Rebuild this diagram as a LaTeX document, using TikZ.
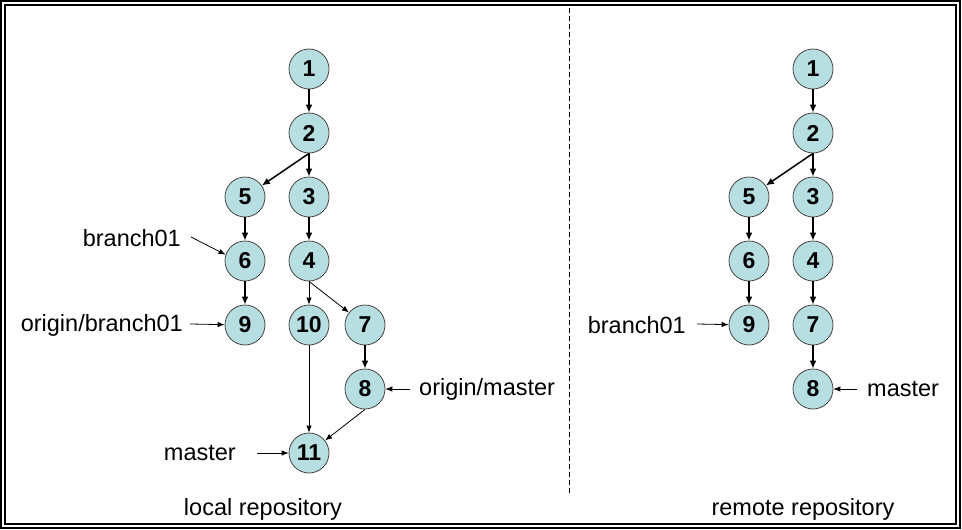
\documentclass[tikz,border=0pt]{standalone}
\usepackage{fontspec}
\setmainfont{Liberation Sans}
\usetikzlibrary{arrows.meta}
\definecolor{commitfill}{RGB}{183,222,225}
\definecolor{commitline}{RGB}{70,70,70}
\tikzset{
  commit/.style={circle, draw=commitline, line width=0.8pt, fill=commitfill,
    minimum size=40pt, inner sep=0pt, font=\fontsize{23}{23}\selectfont\bfseries},
  thickedge/.style={line width=1.5pt, -{Latex[length=8pt,width=7pt]}},
  thinedge/.style={line width=0.8pt, -{Latex[length=7pt,width=5.5pt]}},
  reflabel/.style={font=\fontsize{23.5}{24}\selectfont, inner sep=0pt},
  border/.style={line width=1.7pt}
}
\begin{document}
\begin{tikzpicture}[x=1pt,y=-1pt]
\useasboundingbox (0,0) rectangle (962,530);
\draw[border] (1,1) rectangle (960,528);
\draw[border] (5,5) rectangle (956,524);
\coordinate (dtop) at (569,8);
\coordinate (dbot) at (569,493);
\draw[line width=1pt, dash pattern=on 5pt off 3pt] (dtop) -- (dbot);

% local repository
\node[commit] (l1) at (309,69) {1};
\node[commit] (l2) at (309,133) {2};
\node[commit] (l5) at (245,197) {5};
\node[commit] (l3) at (309,197) {3};
\node[commit] (l6) at (245,261) {6};
\node[commit] (l4) at (309,261) {4};
\node[commit] (l9) at (245,325) {9};
\node[commit] (l10) at (309,325) {10};
\node[commit] (l7) at (365,325) {7};
\node[commit] (l8) at (365,389) {8};
\node[commit] (l11) at (309,453) {11};

\draw[thickedge] (l1) -- (l2);
\draw[thickedge] (l2.south) -- (l5);
\draw[thickedge] (l2) -- (l3);
\draw[thickedge] (l5) -- (l6);
\draw[thickedge] (l3) -- (l4);
\draw[thickedge] (l6) -- (l9);
\draw[thinedge] (l4) -- (l10);
\draw[thinedge] (l4.south) -- (l7);
\draw[thickedge] (l7) -- (l8);
\draw[thinedge] (l10) -- (l11);
\draw[thinedge] (l8.south) -- (l11);

\node[reflabel, anchor=east] (lb01) at (181,238) {branch01};
\node[reflabel, anchor=east] (lob01) at (183,325) {origin/branch01};
\node[reflabel, anchor=west] (lom) at (419,389) {origin/master};
\node[reflabel, anchor=east] (lm) at (236,453) {master};
\coordinate (lb01s) at (191,237);
\coordinate (lob01s) at (190,324);
\coordinate (loms) at (410,389);
\coordinate (lms) at (257,453);
\draw[thinedge] (lb01s) -- (l6.162);
\draw[thinedge] (lob01s) -- (l9);
\draw[thinedge] (loms) -- (l8);
\draw[thinedge] (lms) -- (l11);

% remote repository
\node[commit] (r1) at (813,69) {1};
\node[commit] (r2) at (813,133) {2};
\node[commit] (r5) at (749,197) {5};
\node[commit] (r3) at (813,197) {3};
\node[commit] (r6) at (749,261) {6};
\node[commit] (r4) at (813,261) {4};
\node[commit] (r9) at (749,325) {9};
\node[commit] (r7) at (813,325) {7};
\node[commit] (r8) at (813,389) {8};

\draw[thickedge] (r1) -- (r2);
\draw[thickedge] (r2.south) -- (r5);
\draw[thickedge] (r2) -- (r3);
\draw[thickedge] (r5) -- (r6);
\draw[thickedge] (r3) -- (r4);
\draw[thickedge] (r6) -- (r9);
\draw[thickedge] (r4) -- (r7);
\draw[thickedge] (r7) -- (r8);

\node[reflabel, anchor=east] (rb01) at (686,325) {branch01};
\node[reflabel, anchor=west] (rm) at (867,389) {master};
\coordinate (rb01s) at (697,324);
\coordinate (rms) at (857,389);
\draw[thinedge] (rb01s) -- (r9);
\draw[thinedge] (rms) -- (r8);

\node[reflabel] (local) at (263,509) {local repository};
\node[reflabel] (remote) at (803,509) {remote repository};
\end{tikzpicture}
\end{document}
